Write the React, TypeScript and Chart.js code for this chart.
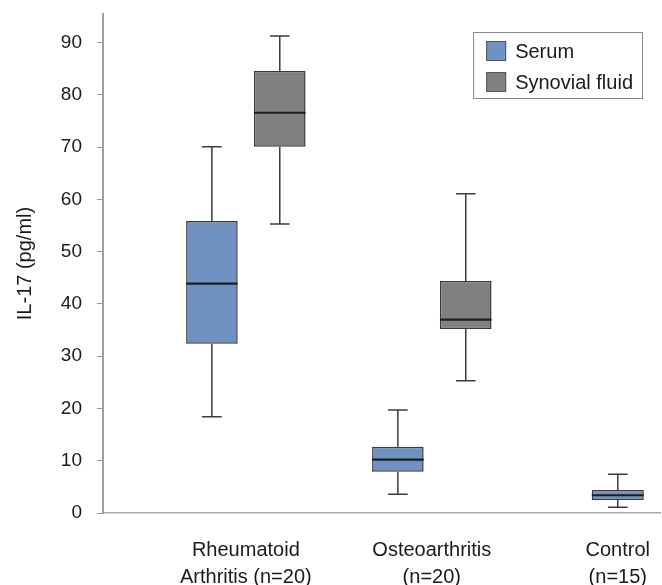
import React, { useEffect, useRef } from 'react';
import { Chart, registerables } from 'chart.js';

Chart.register(...registerables);

// ---- data ----
const categories: string[][] = [
  ['Rheumatoid', 'Arthritis (n=20)'],
  ['Osteoarthritis', '(n=20)'],
  ['Control', '(n=15)'],
];
const seriesNames = ['Serum', 'Synovial fluid'];

const serumMin = [18.4, 3.6, 1.1];
const serumQ1 = [32.4, 7.9, 2.5];
const serumMedian = [43.9, 10.2, 3.4];
const serumQ3 = [55.9, 12.7, 4.4];
const serumMax = [70.1, 19.7, 7.4];

const synovialMin: (number | null)[] = [55.3, 25.3, null];
const synovialQ1: (number | null)[] = [70.1, 35.2, null];
const synovialMedian: (number | null)[] = [76.6, 37.0, null];
const synovialQ3: (number | null)[] = [84.6, 44.4, null];
const synovialMax: (number | null)[] = [91.3, 61.1, null];

const yTicks = [0, 10, 20, 30, 40, 50, 60, 70, 80, 90];

const FONT = '"Liberation Sans", Arial, sans-serif';
const TEXT = '#1a1a1a';

const boxStats = [
  { min: serumMin, med: serumMedian, max: serumMax },
  { min: synovialMin, med: synovialMedian, max: synovialMax },
];

const whiskerPlugin = {
  id: 'whiskers',
  afterDatasetsDraw(chart: any) {
    const ctx = chart.ctx;
    const y = chart.scales.y;
    chart.data.datasets.forEach((_ds: any, d: number) => {
      const meta = chart.getDatasetMeta(d);
      const st = boxStats[d];
      meta.data.forEach((el: any, i: number) => {
        if (st.med[i] == null) return;
        const p = el.getProps(['x', 'y', 'base', 'width'], true);
        const x = p.x;
        const half = p.width / 2;
        const top = Math.min(p.y, p.base);
        const bot = Math.max(p.y, p.base);
        const pMax = y.getPixelForValue(st.max[i]);
        const pMin = y.getPixelForValue(st.min[i]);
        const pMed = y.getPixelForValue(st.med[i]);
        const cap = p.width * 0.19;
        ctx.save();
        ctx.strokeStyle = '#3c3c3c';
        ctx.lineWidth = 1.5;
        ctx.beginPath();
        ctx.moveTo(x, top);
        ctx.lineTo(x, pMax);
        ctx.moveTo(x - cap, pMax);
        ctx.lineTo(x + cap, pMax);
        ctx.moveTo(x, bot);
        ctx.lineTo(x, pMin);
        ctx.moveTo(x - cap, pMin);
        ctx.lineTo(x + cap, pMin);
        ctx.stroke();
        ctx.strokeStyle = '#1e1e1e';
        ctx.lineWidth = 2.2;
        ctx.beginPath();
        ctx.moveTo(x - half, pMed);
        ctx.lineTo(x + half, pMed);
        ctx.stroke();
        ctx.restore();
      });
    });
  },
};

const legendPlugin = {
  id: 'boxLegend',
  afterDraw(chart: any) {
    const ctx = chart.ctx;
    const ca = chart.chartArea;
    ctx.save();
    ctx.font = `20px ${FONT}`;
    const tw = Math.max(...chart.data.datasets.map((d: any) => ctx.measureText(d.label).width));
    const w = 13 + 20 + 9 + tw + 9;
    const h = 66;
    const right = ca.right - 18;
    const left = right - w;
    const top = ca.top + 18;
    ctx.fillStyle = '#ffffff';
    ctx.fillRect(left, top, w, h);
    ctx.strokeStyle = '#8a8a8a';
    ctx.lineWidth = 1;
    ctx.strokeRect(left + 0.5, top + 0.5, w, h);
    chart.data.datasets.forEach((d: any, i: number) => {
      const cy = top + 19 + i * 31;
      ctx.fillStyle = d.backgroundColor;
      ctx.fillRect(left + 13, cy - 10, 20, 20);
      ctx.strokeStyle = '#555555';
      ctx.strokeRect(left + 13.5, cy - 9.5, 19, 19);
      ctx.fillStyle = TEXT;
      ctx.textBaseline = 'middle';
      ctx.textAlign = 'left';
      ctx.fillText(d.label, left + 42, cy + 1);
    });
    ctx.restore();
  },
};

export default function App() {
  const ref = useRef<HTMLCanvasElement | null>(null);

  useEffect(() => {
    if (!ref.current) return;
    const chart = new Chart(ref.current, {
      type: 'bar',
      data: {
        datasets: [
          {
            label: seriesNames[0],
            data: categories.map((_, i) => ({ x: i + 1, y: [serumQ1[i], serumQ3[i]] })) as any,
            backgroundColor: '#6F92C2',
            borderColor: '#3a3a3a',
            borderWidth: 1.5,
            borderSkipped: false,
          },
          {
            label: seriesNames[1],
            data: categories.map((_, i) => ({
              x: i + 1,
              y: synovialQ1[i] == null ? null : [synovialQ1[i], synovialQ3[i]],
            })) as any,
            backgroundColor: '#808080',
            borderColor: '#3a3a3a',
            borderWidth: 1.5,
            borderSkipped: false,
          },
        ],
      },
      options: {
        responsive: false,
        animation: false,
        layout: { padding: { top: 14, right: 2, left: 0, bottom: 0 } },
        datasets: {
          bar: {
            skipNull: true,
            categoryPercentage: 0.73,
            barPercentage: 0.76,
            maxBarThickness: 52,
          } as any,
        },
        plugins: {
          legend: { display: false },
          tooltip: { enabled: false },
        },
        scales: {
          x: {
            type: 'linear',
            offset: false,
            min: 0.232,
            max: 3.227,
            afterBuildTicks: (s: any) => {
              s.ticks = categories.map((_, i) => ({ value: i + 1 }));
            },
            afterFit: (s: any) => {
              s.height = 72;
              s.paddingLeft = 0;
              s.paddingRight = 0;
            },
            ticks: {
              callback: (v: any) => categories[Math.round(v) - 1] ?? '',
              autoSkip: false,
              maxRotation: 0,
              padding: 23.5,
              color: TEXT,
              font: { family: FONT, size: 20, lineHeight: 1.35 },
            },
            grid: { display: false, drawTicks: false, offset: false },
            border: { display: true, color: '#a8a8a8', width: 1.5 },
          },
          y: {
            min: 0,
            max: 95.5,
            afterBuildTicks: (s: any) => {
              s.ticks = yTicks.map((v) => ({ value: v }));
            },
            afterFit: (s: any) => {
              s.width = 103;
              s.paddingTop = 0;
              s.paddingBottom = 0;
            },
            ticks: {
              padding: 15,
              color: TEXT,
              font: { family: FONT, size: 19 },
            },
            grid: { drawOnChartArea: false, drawTicks: true, tickLength: 6, color: '#9a9a9a' },
            border: { display: true, color: '#a0a0a0', width: 2 },
            title: {
              display: true,
              text: 'IL-17 (pg/ml)',
              color: TEXT,
              font: { family: FONT, size: 20 },
              padding: { top: 13, bottom: 0 },
            },
          },
        },
      },
      plugins: [whiskerPlugin, legendPlugin],
    } as any);
    return () => chart.destroy();
  }, []);

  return (
    <div style={{ position: 'fixed', left: 0, top: 0, width: 662, height: 585, background: '#fff' }}>
      <canvas ref={ref} width={662} height={585} style={{ display: 'block' }} />
    </div>
  );
}
